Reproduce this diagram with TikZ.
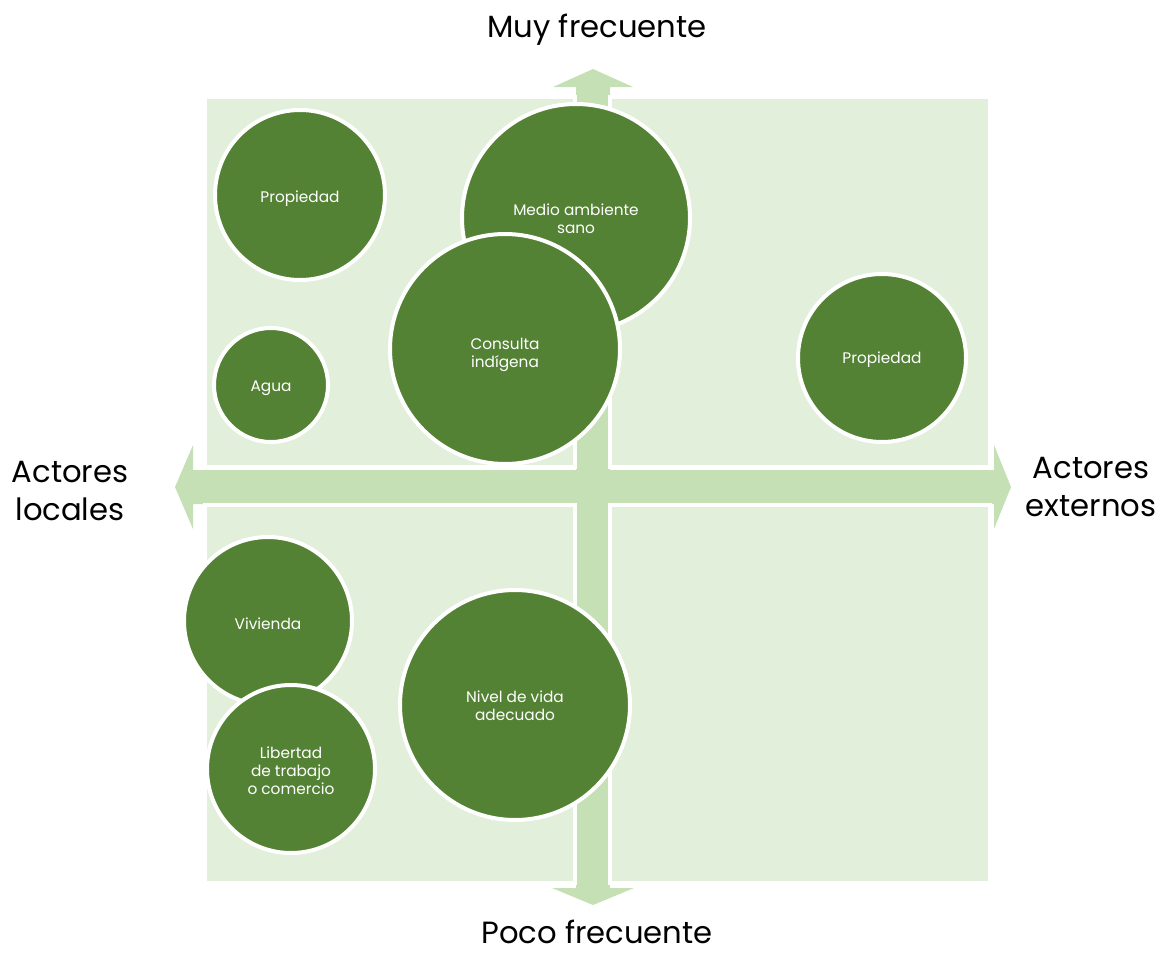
\documentclass[tikz,border=0pt]{standalone}
\usepackage{fontspec}
\setmainfont{Poppins}
\definecolor{cgreen}{HTML}{548235}
\definecolor{lgreen}{HTML}{C5E0B4}
\definecolor{qgreen}{HTML}{E2EFDA}
\newcommand\bubtxt[2]{\raisebox{-#1}[\height][\depth]{\begin{tabular}{@{}c@{}}#2\end{tabular}}}
\tikzset{
  bubble/.style={circle, fill=cgreen, draw=white, line width=3pt,
    minimum size={#1*1.5pt-3pt}, inner sep=0pt, text=white,
    font=\fontsize{11.5}{13.3}\selectfont},
  quad/.style={fill=qgreen, draw=white, line width=2.5pt},
  axlabel/.style={align=center, text=black, inner sep=0pt,
    font=\fontsize{23}{28.5}\selectfont},
  cross/.style={fill=lgreen, draw=none}
}
\begin{document}
\begin{tikzpicture}[x=0.75pt,y=-0.75pt]
\useasboundingbox (0,0) rectangle (1163,953);
% cross arrows
\fill[cross] (175,487) -- (193,445) -- (193,470) -- (994,470) -- (994,445)
  -- (1011,487) -- (994,529) -- (994,504) -- (193,504) -- (193,529) -- cycle;
\fill[cross] (593,69) -- (633,87) -- (610,87) -- (610,888) -- (634,888)
  -- (593,905) -- (552,888) -- (576,888) -- (576,87) -- (553,87) -- cycle;
% quadrants
\draw[quad] (205,97) rectangle (575,467);
\draw[quad] (610,97) rectangle (990,467);
\draw[quad] (205,505) rectangle (575,883);
\draw[quad] (610,505) rectangle (990,883);
% bubbles
\node[bubble=87] (prop1) at (300,195) {\bubtxt{3pt}{Propiedad}};
\node[bubble=59] (agua) at (271,385) {\bubtxt{2.25pt}{Agua}};
\node[bubble=116] (medio) at (576,218) {\bubtxt{2pt}{Medio ambiente\\sano}};
\node[bubble=117] (consulta) at (505,349) {\bubtxt{4.5pt}{Consulta\\indígena}};
\node[bubble=86] (prop2) at (882,358) {\bubtxt{1.5pt}{Propiedad}};
\node[bubble=86] (vivienda) at (268,621) {\bubtxt{3.75pt}{Vivienda}};
\node[bubble=86] (libertad) at (291,769) {\bubtxt{3pt}{Libertad\\de trabajo\\o comercio}};
\node[bubble=117] (nivel) at (515,705) {\bubtxt{2.25pt}{Nivel de vida\\adecuado}};
% axis labels
\node[axlabel] (top) at (597,30) {Muy frecuente};
\node[axlabel] (bottom) at (597,932) {Poco frecuente};
\node[axlabel] (left) at (70,491) {Actores\\locales};
\node[axlabel] (right) at (1091,487) {Actores\\externos};
\end{tikzpicture}
\end{document}
